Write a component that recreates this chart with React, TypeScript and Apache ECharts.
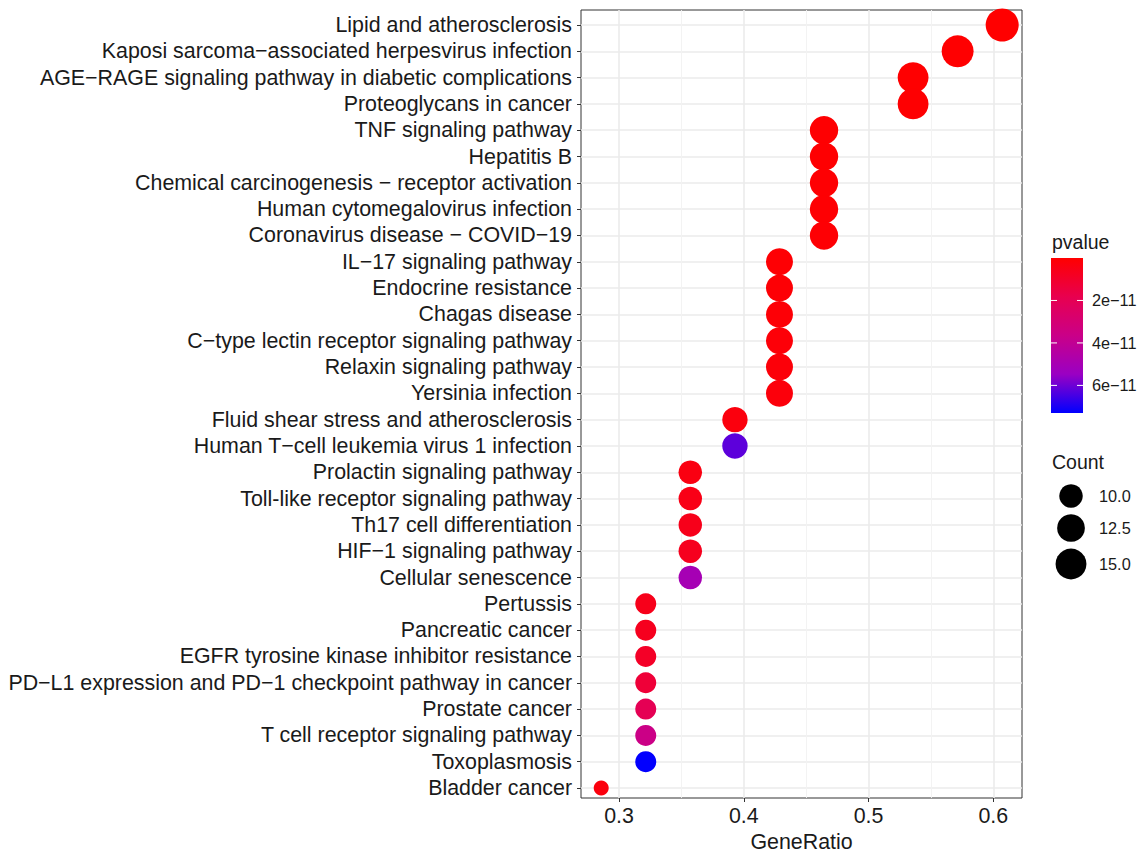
import React, { useEffect, useRef } from "react";
import * as echarts from "echarts";

const pathways: string[] = [
  "Lipid and atherosclerosis",
  "Kaposi sarcoma\u2212associated herpesvirus infection",
  "AGE\u2212RAGE signaling pathway in diabetic complications",
  "Proteoglycans in cancer",
  "TNF signaling pathway",
  "Hepatitis B",
  "Chemical carcinogenesis \u2212 receptor activation",
  "Human cytomegalovirus infection",
  "Coronavirus disease \u2212 COVID\u221219",
  "IL\u221217 signaling pathway",
  "Endocrine resistance",
  "Chagas disease",
  "C\u2212type lectin receptor signaling pathway",
  "Relaxin signaling pathway",
  "Yersinia infection",
  "Fluid shear stress and atherosclerosis",
  "Human T\u2212cell leukemia virus 1 infection",
  "Prolactin signaling pathway",
  "Toll-like receptor signaling pathway",
  "Th17 cell differentiation",
  "HIF\u22121 signaling pathway",
  "Cellular senescence",
  "Pertussis",
  "Pancreatic cancer",
  "EGFR tyrosine kinase inhibitor resistance",
  "PD\u2212L1 expression and PD\u22121 checkpoint pathway in cancer",
  "Prostate cancer",
  "T cell receptor signaling pathway",
  "Toxoplasmosis",
  "Bladder cancer",
];

const geneRatio: number[] = [
  0.6071, 0.5714, 0.5357, 0.5357, 0.4643, 0.4643, 0.4643, 0.4643, 0.4643,
  0.4286, 0.4286, 0.4286, 0.4286, 0.4286, 0.4286, 0.3929, 0.3929, 0.3571,
  0.3571, 0.3571, 0.3571, 0.3571, 0.3214, 0.3214, 0.3214, 0.3214, 0.3214,
  0.3214, 0.3214, 0.2857,
];

const counts: number[] = [
  17, 16, 15, 15, 13, 13, 13, 13, 13, 12, 12, 12, 12, 12, 12, 11, 11, 10, 10,
  10, 10, 10, 9, 9, 9, 9, 9, 9, 9, 8,
];

const pvalues: number[] = [
  0.01e-11, 0.02e-11, 0.03e-11, 0.05e-11, 0.04e-11, 0.05e-11, 0.06e-11,
  0.08e-11, 0.1e-11, 0.1e-11, 0.12e-11, 0.15e-11, 0.18e-11, 0.2e-11, 0.25e-11,
  0.3e-11, 6.2e-11, 0.4e-11, 0.5e-11, 0.6e-11, 0.7e-11, 5.0e-11, 0.6e-11,
  0.7e-11, 0.9e-11, 1.3e-11, 2.0e-11, 3.6e-11, 7.28e-11, 0.3e-11,
];

const xTicks: number[] = [0.3, 0.4, 0.5, 0.6];
const xMinorTicks: number[] = [0.35, 0.45, 0.55];
const pTicks: number[] = [2e-11, 4e-11, 6e-11];
const pTickLabels: string[] = ["2e\u221211", "4e\u221211", "6e\u221211"];
const countBreaks: number[] = [10, 12.5, 15];
const countLabels: string[] = ["10.0", "12.5", "15.0"];

const X_MIN = 0.2695;
const X_MAX = 0.623;
const P_MIN = 0;
const P_MAX = 7.3e-11;
const GRADIENT = ["#FF0000", "#E8004F", "#CA0088", "#9A00C3", "#0000FF"];
const FONT = "Liberation Sans, Arial, sans-serif";

const dotSize = (c: number) => 15 + 18 * Math.sqrt(Math.max(0, c - 8) / 9);

export default function App() {
  const ref = useRef<HTMLDivElement>(null);

  useEffect(() => {
    if (!ref.current) return;
    const chart = echarts.init(ref.current, null, { renderer: "svg" });

    const data = pathways.map((p, i) => [geneRatio[i], p, pvalues[i], counts[i]]);

    const barX = 1051, barY = 258, barW = 32, barH = 155;
    const legend: any[] = [];
    legend.push({
      type: "text", left: 1052, top: 232,
      style: { text: "pvalue", font: `19.5px ${FONT}`, fill: "#1a1a1a" },
    });
    legend.push({
      type: "rect",
      shape: { x: barX, y: barY, width: barW, height: barH },
      style: {
        fill: new echarts.graphic.LinearGradient(0, 0, 0, 1,
          GRADIENT.map((c, i) => ({ offset: i / (GRADIENT.length - 1), color: c }))),
      },
    });
    pTicks.forEach((t, i) => {
      const y = barY + ((t - P_MIN) / (P_MAX - P_MIN)) * barH;
      legend.push({ type: "line", shape: { x1: barX, y1: y, x2: barX + 6, y2: y }, style: { stroke: "#fff", lineWidth: 1 } });
      legend.push({ type: "line", shape: { x1: barX + barW - 6, y1: y, x2: barX + barW, y2: y }, style: { stroke: "#fff", lineWidth: 1 } });
      legend.push({
        type: "text", x: 1092, y,
        style: { text: pTickLabels[i], font: `16.3px ${FONT}`, fill: "#1a1a1a", verticalAlign: "middle" },
      });
    });
    legend.push({
      type: "text", left: 1052, top: 452,
      style: { text: "Count", font: `19.5px ${FONT}`, fill: "#1a1a1a" },
    });
    const cys = [496, 528, 564];
    countBreaks.forEach((c, i) => {
      legend.push({ type: "circle", shape: { cx: 1071, cy: cys[i], r: dotSize(c) / 2 }, style: { fill: "#000" } });
      legend.push({
        type: "text", x: 1099, y: cys[i],
        style: { text: countLabels[i], font: `16.3px ${FONT}`, fill: "#1a1a1a", verticalAlign: "middle" },
      });
    });

    chart.setOption({
      animation: false,
      backgroundColor: "#ffffff",
      textStyle: { fontFamily: FONT },
      grid: [
        { left: 581, right: 124, top: 25, bottom: 69, containLabel: false },
        { left: 581, right: 124, top: 10, bottom: 53, show: true, borderColor: "#333333", borderWidth: 1, backgroundColor: "transparent" },
      ],
      xAxis: [
        { type: "value", gridIndex: 0, min: X_MIN, max: X_MAX, show: false },
        {
          type: "value", gridIndex: 1, min: X_MIN, max: X_MAX,
          axisLine: { show: false },
          axisTick: { show: true, length: 4, lineStyle: { color: "#333333" }, customValues: xTicks },
          axisLabel: { show: true, customValues: xTicks, fontSize: 21.4, color: "#1a1a1a", margin: 7, fontFamily: FONT, formatter: (v: number) => v.toFixed(1) },
          splitLine: { show: true, lineStyle: { color: "#EBEBEB", width: 1.6 } },
          name: "GeneRatio", nameLocation: "middle", nameGap: 33,
          nameTextStyle: { fontSize: 21.4, color: "#1a1a1a", fontFamily: FONT },
        },
        {
          type: "value", gridIndex: 1, min: X_MIN, max: X_MAX,
          axisLine: { show: false },
          axisTick: { show: false, customValues: xMinorTicks },
          axisLabel: { show: false, customValues: xMinorTicks },
          splitLine: { show: true, lineStyle: { color: "#F2F2F2", width: 0.9 } },
        },
      ],
      yAxis: [
        {
          type: "category", gridIndex: 0, data: pathways, inverse: true, boundaryGap: false,
          axisLine: { show: false },
          axisTick: { show: true, length: 4, lineStyle: { color: "#333333" } },
          axisLabel: { fontSize: 21.4, color: "#1a1a1a", margin: 9, fontFamily: FONT, interval: 0 },
          splitLine: { show: true, lineStyle: { color: "#EBEBEB", width: 1.6 } },
        },
        { type: "value", gridIndex: 1, show: false, min: 0, max: 1 },
      ],
      visualMap: {
        type: "continuous", show: false, dimension: 2, seriesIndex: 0,
        min: P_MIN, max: P_MAX, inRange: { color: GRADIENT },
      },
      series: [
        {
          type: "scatter", xAxisIndex: 0, yAxisIndex: 0, data,
          symbol: "circle",
          symbolSize: (v: any[]) => dotSize(v[3]),
          itemStyle: { opacity: 1 },
          z: 5,
        },
      ],
      graphic: legend,
    });

    return () => chart.dispose();
  }, []);

  return <div ref={ref} style={{ width: 1146, height: 857, margin: -8 }} />;
}
